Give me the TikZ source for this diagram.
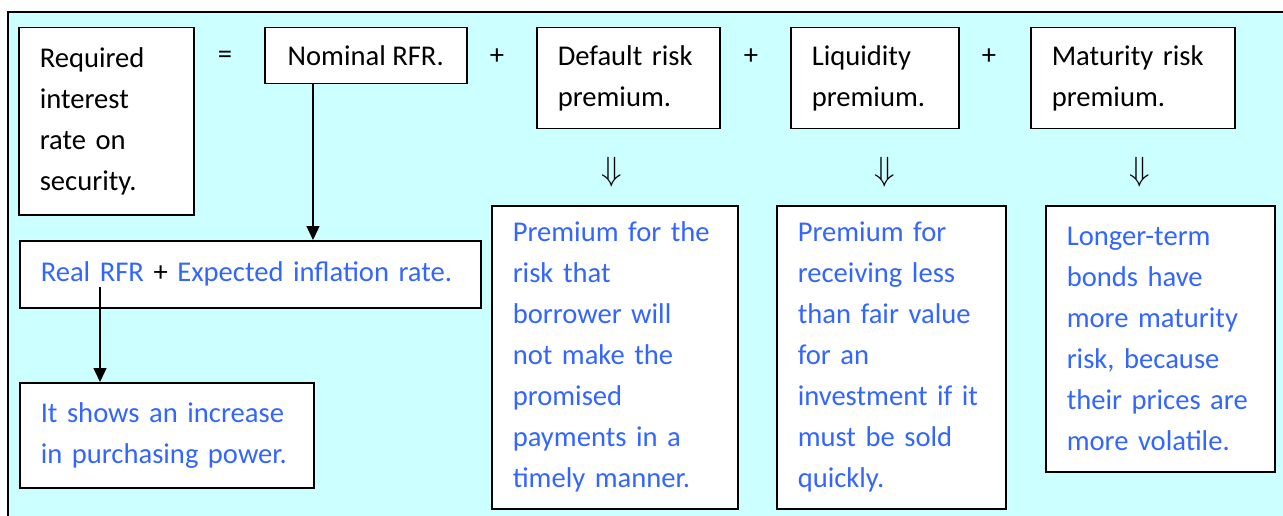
\documentclass[tikz,border=0pt]{standalone}
\usepackage{fontspec}
\setmainfont{Carlito}
\usetikzlibrary{arrows.meta}
\usetikzlibrary{positioning}
\definecolor{bgcyan}{RGB}{204,255,255}
\definecolor{noteblue}{RGB}{51,102,255}

\begin{document}
\begin{tikzpicture}[x=1pt,y=-1pt,>={Triangle[width=13pt,length=14pt]},line width=1.5pt,
			font=\fontsize{28.6}{41}\selectfont]
			\tikzstyle{box}=[draw,fill=white,anchor=north west,align=left,inner xsep=21pt,inner ysep=0pt]
			\tikzstyle{note}=[box,text=noteblue]
			\tikzstyle{sign}=[inner sep=0pt]
			
			\useasboundingbox (0,0) rectangle (1283,516);
			\clip (0,0) rectangle (1283,516);
			\draw[fill=bgcyan,line width=1.4pt] (8,12) rectangle (1300,530);
			
			\node[box,text width=133pt,minimum height=187pt] (req)     at (18,27)   {Required\\interest\\rate on\\security.};
			\node[box,align=center,minimum width=202pt,minimum height=56pt] (nominal) at (264,27) {Nominal RFR.};
			\node[box,text width=141pt,minimum height=101pt] (default) at (536,27)  {Default risk\\premium.};
			\node[box,text width=126pt,minimum height=101pt] (liquid)  at (790,27)  {Liquidity\\premium.};
			\node[box,text width=162pt,minimum height=101pt] (mature)  at (1030,27) {Maturity risk\\premium.};
			
			\node[sign] (eq)    at (225,57) {=};
			\node[sign] (plus1) at (497,57) {+};
			\node[sign] (plus2) at (751,57) {+};
			\node[sign] (plus3) at (989,57) {+};
			
			\node[sign] (down1) at (612,172)  {\scalebox{1.35}{$\Downarrow$}};
			\node[sign] (down2) at (885,172)  {\scalebox{1.35}{$\Downarrow$}};
			\node[sign] (down3) at (1140,172) {\scalebox{1.35}{$\Downarrow$}};
			
			\node[box,text width=419pt,minimum height=67pt] (realrfr) at (19,240)
				{\textcolor{noteblue}{Real RFR} + \textcolor{noteblue}{Expected inflation rate.}};
			\node[note,text width=252pt,minimum height=105pt] (power) at (19,382)
				{It shows an increase\\in purchasing power.};
			
			\node[note,text width=204pt,minimum height=303pt] (defnote) at (491,205)
				{Premium for the\\risk that\\borrower will\\not make the\\promised\\payments in a\\timely manner.};
			\node[note,text width=187pt,minimum height=303pt] (liqnote) at (776,205)
				{Premium for\\receiving less\\than fair value\\for an\\investment if it\\must be sold\\quickly.};
			\node[note,text width=187pt,minimum height=266pt] (matnote) at (1045,205)
				{Longer-term\\bonds have\\more maturity\\risk, because\\their prices are\\more volatile.};
			
			\coordinate (n1) at (313,0);
			\coordinate (r1) at (100,287);
			\draw[->] (nominal.south -| n1) -- (realrfr.north -| n1);
			\draw[->] (r1) -- (power.north -| r1);
			\end{tikzpicture}
\end{document}
